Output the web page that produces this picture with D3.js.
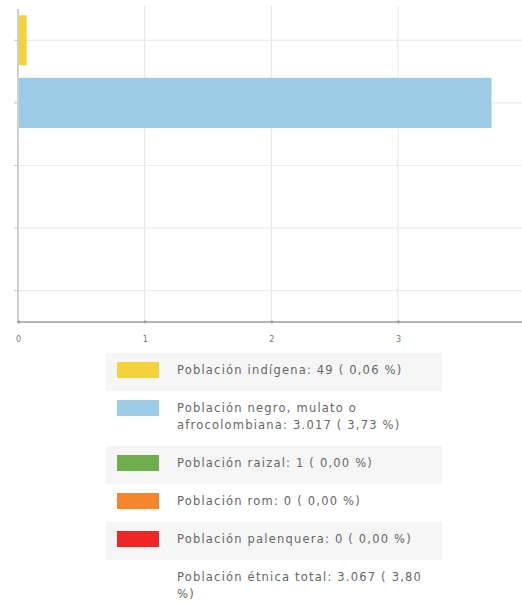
<!DOCTYPE html>
<html>
<head>
<meta charset="utf-8">
<script src="https://cdn.jsdelivr.net/npm/d3@7"></script>
<style>
  html, body { margin: 0; padding: 0; background: #fff; }
  svg { display: block; }
  text { font-family: "DejaVu Sans", sans-serif; }
</style>
</head>
<body>
<svg id="chart" width="522" height="603"></svg>
<script>
// ---- Data ----
const categories = ["Población indígena", "Población negro, mulato o afrocolombiana", "Población raizal", "Población rom", "Población palenquera"];
const percents = [0.06, 3.73, 0.00, 0.00, 0.00];
const counts = ["49", "3.017", "1", "0", "0"];
const percentLabels = ["0,06", "3,73", "0,00", "0,00", "0,00"];
const colors = ["#f4d23c", "#9ccbe5", "#6fae4c", "#f5862c", "#ee2626"];
const totalLabel = "Población étnica total";
const totalCount = "3.067";
const totalPercent = "3,80";
const xTicks = [0, 1, 2, 3, 4];

const svg = d3.select("#chart");

// ---- Chart area ----
const plotLeft = 18, plotTop = 9, plotBottom = 322, plotRight = 524.7;
const x = d3.scaleLinear().domain([0, 4]).range([plotLeft, plotRight]);
const y = d3.scaleBand().domain(categories).range([plotTop, plotBottom]).paddingInner(0.2).paddingOuter(0.1);

// vertical gridlines
svg.append("g").selectAll("line").data(xTicks.slice(1)).join("line")
  .attr("x1", d => x(d)).attr("x2", d => x(d))
  .attr("y1", 6).attr("y2", plotBottom)
  .attr("stroke", "#e8e8e8").attr("stroke-width", 1.2);

// horizontal gridlines at band centers
svg.append("g").selectAll("line").data(categories).join("line")
  .attr("x1", plotLeft).attr("x2", 522)
  .attr("y1", d => y(d) + y.bandwidth() / 2).attr("y2", d => y(d) + y.bandwidth() / 2)
  .attr("stroke", "#ececec").attr("stroke-width", 1.2);

// y axis
const yAxis = svg.append("g").attr("transform", `translate(${plotLeft},0)`)
  .call(d3.axisLeft(y).tickSize(4).tickFormat(""));
yAxis.select(".domain").attr("stroke", "#c4c4c4").attr("stroke-width", 1.6)
  .attr("d", `M0,${plotTop}V${plotBottom}`);
yAxis.selectAll(".tick line").attr("stroke", "#c4c4c4");

// bars
svg.append("g").selectAll("rect").data(categories).join("rect")
  .attr("x", x(0) + 1)
  .attr("y", d => y(d))
  .attr("width", (d, i) => Math.max(0, x(percents[i]) - x(0)))
  .attr("height", y.bandwidth())
  .attr("fill", (d, i) => colors[i]);

// x axis
const xAxis = svg.append("g").attr("transform", `translate(0,${plotBottom})`)
  .call(d3.axisBottom(x).tickValues(xTicks).tickSize(0).tickPadding(14).tickFormat(d3.format("d")));
xAxis.select(".domain").attr("stroke", "#b5b5b5").attr("stroke-width", 2).attr("d", `M${plotLeft},0H522`);
xAxis.selectAll(".tick text").attr("fill", "#777").attr("font-size", 8).attr("font-family", "DejaVu Sans");
xAxis.selectAll(".tick").append("circle").attr("r", 1.4).attr("fill", "#999");

// ---- Legend ----
const legendItems = categories.map((c, i) => ({
  text: `${c}: ${counts[i]} ( ${percentLabels[i]} %)`, color: colors[i]
}));
legendItems.push({ text: `${totalLabel}: ${totalCount} ( ${totalPercent} %)`, color: null });

const legend = svg.append("g");
const textX = 177, maxW = 262, lineH = 17;
let rowTop = 353;
legendItems.forEach((item, i) => {
  const g = legend.append("g");
  const bg = g.append("rect").attr("x", 106).attr("width", 336)
    .attr("fill", i % 2 === 0 ? "#f6f6f6" : "#fff");
  const t = g.append("text").attr("x", textX).attr("fill", "#666")
    .attr("font-size", 11.5).attr("letter-spacing", 1.2);
  const words = item.text.split(" ");
  let lines = [], cur = [];
  let tspan = t.append("tspan").attr("x", textX);
  words.forEach(w => {
    cur.push(w);
    tspan.text(cur.join(" "));
    if (tspan.node().getComputedTextLength() > maxW && cur.length > 1) {
      cur.pop();
      tspan.text(cur.join(" "));
      lines.push(cur.join(" "));
      cur = [w];
      tspan = t.append("tspan").attr("x", textX).text(w);
    }
  });
  lines.push(cur.join(" "));
  t.selectAll("tspan").attr("y", (d, k) => rowTop + 17 + k * lineH).attr("dy", "0.35em");
  const h = 21 + lineH * lines.length;
  bg.attr("y", rowTop).attr("height", h);
  if (item.color) {
    g.append("rect").attr("x", 117).attr("y", rowTop + 9).attr("width", 42).attr("height", 16)
      .attr("fill", item.color);
  }
  rowTop += h;
});
</script>
</body>
</html>
